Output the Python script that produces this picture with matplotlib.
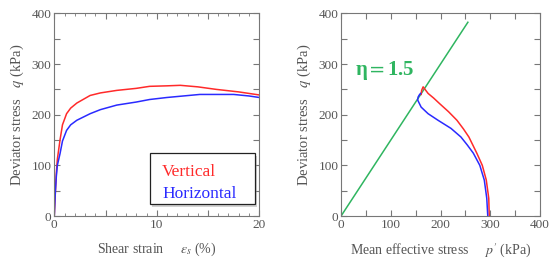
import matplotlib.pyplot as plt
import numpy as np
from matplotlib.ticker import MultipleLocator, FuncFormatter
from matplotlib.patches import Rectangle

# shear strain vs deviator stress
strain_v = [0, 0.1, 0.2, 0.3, 0.56, 0.8, 1.2, 1.6, 2.2, 3.5, 4.5, 6.1, 8, 9.3, 11, 12.3, 14, 15.8, 18, 20]
q_v = [0, 45, 85, 112, 150, 180, 202, 213, 223, 238, 243, 248, 252, 256, 257, 258, 255, 250, 245, 239]
strain_h = [0, 0.1, 0.2, 0.3, 0.56, 0.8, 1.2, 1.6, 2.2, 3.5, 4.5, 6.1, 8, 9.3, 11, 14.2, 17.5, 19, 20]
q_h = [0, 45, 78, 100, 123, 148, 169, 180, 189, 202, 210, 219, 225, 230, 234, 240, 240, 237, 234]

# effective stress paths
p_v = [298, 297, 292, 284, 273, 265, 257, 246, 233, 216, 198, 186, 175, 165, 162, 161]
qp_v = [0, 35, 71, 100, 124, 140, 156, 172, 189, 206, 222, 233, 242, 255, 248, 240]
p_h = [295, 293, 288, 279, 266, 254, 241, 221, 195, 175, 161, 154, 155, 158, 160]
qp_h = [0, 35, 71, 100, 124, 140, 156, 173, 189, 202, 215, 229, 235, 240, 242]

eta = 1.5
p_line = [0, 255]

plt.rcParams['font.family'] = ['Liberation Serif', 'DejaVu Serif']
plt.rcParams['mathtext.fontset'] = 'stix'

red = '#ff2a2a'
blue = '#2a2aff'
green = '#2fb560'
grey = '#555555'

fig = plt.figure(figsize=(5.51, 2.68), dpi=100)
ax1 = fig.add_axes([0.0985, 0.194, 0.372, 0.756])
ax2 = fig.add_axes([0.619, 0.194, 0.361, 0.756])


def style(ax, xmaj, xlab_step):
    for s in ax.spines.values():
        s.set_color('#777777')
        s.set_linewidth(0.8)
    ax.tick_params(which='both', direction='in', top=True, right=True,
                   colors='#777777', labelcolor=grey, labelsize=9.5, pad=2)
    ax.tick_params(which='major', length=4)
    ax.tick_params(which='minor', length=2)
    ax.xaxis.set_major_locator(MultipleLocator(xmaj))
    ax.xaxis.set_major_formatter(FuncFormatter(
        lambda v, pos: '%d' % v if abs(v / xlab_step - round(v / xlab_step)) < 1e-6 else ''))
    ax.yaxis.set_major_locator(MultipleLocator(50))
    ax.yaxis.set_major_formatter(FuncFormatter(
        lambda v, pos: '%d' % v if int(round(v)) % 100 == 0 else ''))


ax1.plot(strain_v, q_v, color=red, lw=1.1)
ax1.plot(strain_h, q_h, color=blue, lw=1.1)
ax1.set_xlim(0, 20)
ax1.set_ylim(0, 400)
style(ax1, 5, 10)
ax1.xaxis.set_minor_locator(MultipleLocator(1))
ax1.set_xlabel(r'Shear strain     $\varepsilon_s$ (%)', color=grey, fontsize=10, labelpad=7)
ax1.set_ylabel(r'Deviator stress   $q$ (kPa)', color=grey, fontsize=10.5, labelpad=4)

# legend box drawn by hand (shadow, no handles)
ax1.add_patch(Rectangle((0.478, 0.045), 0.512, 0.252, transform=ax1.transAxes,
                        fc='#999999', ec='none', alpha=0.45, zorder=4, clip_on=False))
ax1.add_patch(Rectangle((0.467, 0.059), 0.512, 0.252, transform=ax1.transAxes,
                        fc='white', ec='#222222', lw=0.9, zorder=5, clip_on=False))
ax1.text(0.526, 0.197, 'Vertical', color=red, fontsize=12.5, va='baseline',
         transform=ax1.transAxes, zorder=6)
ax1.text(0.526, 0.089, 'Horizontal', color=blue, fontsize=12.5, va='baseline',
         transform=ax1.transAxes, zorder=6)

ax2.plot(p_line, [eta * p for p in p_line], color=green, lw=1.1)
ax2.plot(p_v, qp_v, color=red, lw=1.1)
ax2.plot(p_h, qp_h, color=blue, lw=1.1)
ax2.set_xlim(0, 400)
ax2.set_ylim(0, 400)
style(ax2, 50, 100)
ax2.set_xlabel(r"Mean effective stress     $p'$ (kPa)", color=grey, fontsize=10, labelpad=8)
ax2.set_ylabel(r'Deviator stress   $q$ (kPa)', color=grey, fontsize=10.5, labelpad=4)
ax2.text(28, 287, r'η$=$1.5', color=green, fontsize=15, fontweight='bold', va='center')

fig.savefig('out.png', dpi=100)
